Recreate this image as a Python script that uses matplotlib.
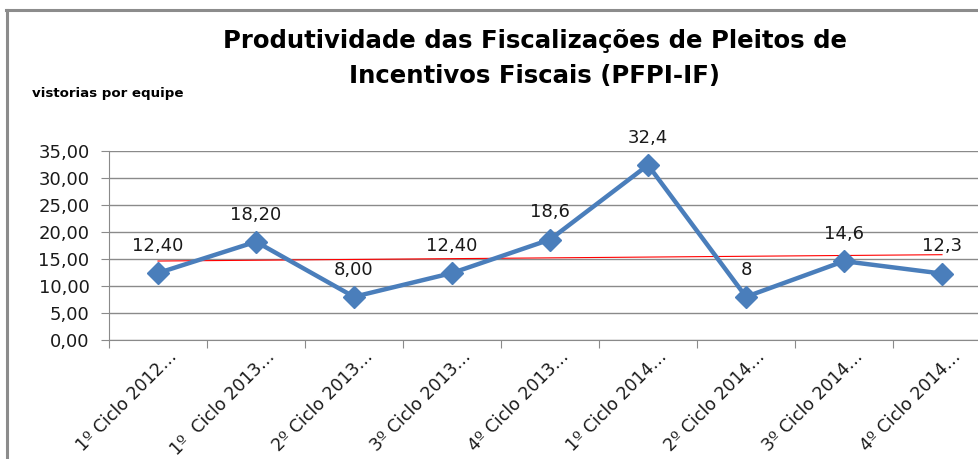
import matplotlib
matplotlib.use("Agg")
import matplotlib.pyplot as plt
import matplotlib.transforms as mtransforms
from matplotlib.lines import Line2D
import numpy as np

# Dados
ciclos = ["1º Ciclo 2012…", "1º  Ciclo 2013…", "2º Ciclo 2013…", "3º Ciclo 2013…",
          "4º Ciclo 2013…", "1º Ciclo 2014…", "2º Ciclo 2014…", "3º Ciclo 2014…",
          "4º Ciclo 2014…"]
vistorias = [12.40, 18.20, 8.00, 12.40, 18.6, 32.4, 8, 14.6, 12.3]
rotulos = ["12,40", "18,20", "8,00", "12,40", "18,6", "32,4", "8", "14,6", "12,3"]

plt.rcParams['font.family'] = ['DejaVu Sans']

W, H = 979, 459
fig = plt.figure(figsize=(W / 100, H / 100), dpi=100)

# moldura do gráfico (cinza)
fig.add_artist(Line2D([6 / W, 1], [1 - 10 / H, 1 - 10 / H], color="#8c8c8c", lw=2.2))
fig.add_artist(Line2D([7 / W, 7 / W], [0, 1 - 10 / H], color="#8c8c8c", lw=2.2))

ax = fig.add_axes([109 / W, (H - 340) / H, 882 / W, 189 / H])

x = np.arange(len(vistorias))
ax.plot(x, vistorias, color="#4a7ebb", lw=3.2, marker="D", markersize=11,
        markerfacecolor="#4a7ebb", markeredgecolor="#4a7ebb", zorder=3,
        clip_on=False)

# linha de tendência linear
a, b = np.polyfit(x, vistorias, 1)
ax.plot(x, a * x + b, color="#ff0000", lw=0.8, zorder=2)

for xi, yi, r in zip(x, vistorias, rotulos):
    ax.annotate(r, (xi, yi), xytext=(0, 19.5), textcoords="offset points",
                ha="center", va="center", fontsize=13, color="#1a1a1a")

ax.set_xlim(-0.5, len(vistorias) - 0.5)
ax.set_ylim(0, 35)
ax.set_yticks(np.arange(0, 36, 5))
ax.set_yticklabels([f"{v:.2f}".replace(".", ",") for v in np.arange(0, 36, 5)],
                   fontsize=13, color="#1a1a1a")
ax.yaxis.grid(True, color="#8a8a8a", lw=1)
ax.set_axisbelow(True)

ax.set_xticks(np.arange(-0.5, len(vistorias) - 0.5, 1))
ax.set_xticklabels([])
ax.set_xticks(x, minor=True)
ax.set_xticklabels(ciclos, minor=True, rotation=45, ha="right", va="center",
                   rotation_mode="anchor", fontsize=12.5, color="#1a1a1a")
ax.tick_params(axis="x", which="minor", length=0, pad=0)
ax.tick_params(axis="x", which="major", length=6, color="#8a8a8a")
ax.tick_params(axis="y", length=6, color="#8a8a8a", pad=8)
off = mtransforms.ScaledTranslation(0.16, -0.14, fig.dpi_scale_trans)
for lbl in ax.get_xticklabels(minor=True):
    lbl.set_transform(lbl.get_transform() + off)

for s in ["top", "right"]:
    ax.spines[s].set_visible(False)
ax.spines["left"].set_color("#8a8a8a")
ax.spines["bottom"].set_color("#8a8a8a")

fig.text(535 / W, 1 - 41 / H, "Produtividade das Fiscalizações de Pleitos de",
         ha="center", va="center", fontsize=17.6, fontweight="bold")
fig.text(535 / W, 1 - 76 / H, "Incentivos Fiscais (PFPI-IF)",
         ha="center", va="center", fontsize=17.6, fontweight="bold")
fig.text(32 / W, 1 - 93 / H, "vistorias por equipe", ha="left", va="center",
         fontsize=9.6, fontweight="bold")

fig.savefig("out.png", dpi=100)
